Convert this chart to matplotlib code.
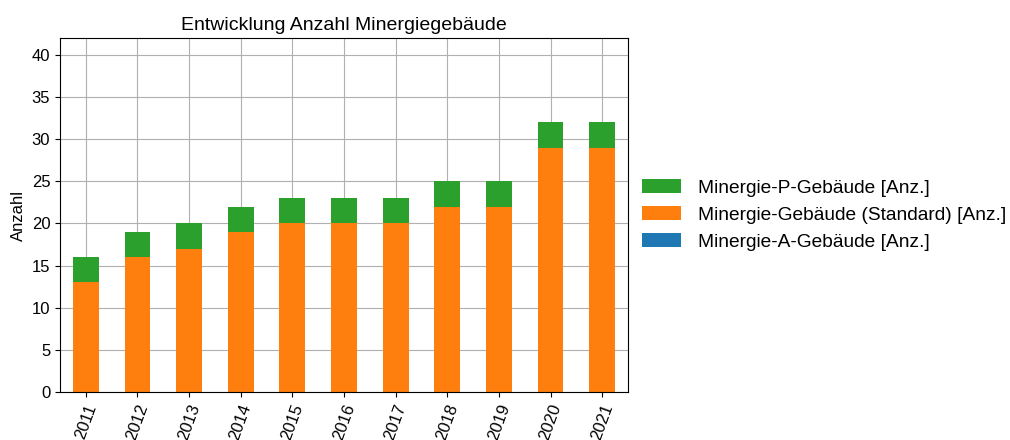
import numpy as np
import matplotlib.pyplot as plt

plt.rcParams['font.family'] = ['Liberation Sans', 'DejaVu Sans']

jahre = ['2011', '2012', '2013', '2014', '2015', '2016', '2017', '2018', '2019', '2020', '2021']
minergie_a = [0, 0, 0, 0, 0, 0, 0, 0, 0, 0, 0]
minergie_std = [13, 16, 17, 19, 20, 20, 20, 22, 22, 29, 29]
minergie_p = [3, 3, 3, 3, 3, 3, 3, 3, 3, 3, 3]

fig = plt.figure(figsize=(10.1, 4.4), dpi=100)
ax = fig.add_axes([60/1010, 48/440, 568/1010, 354/440])
x = np.arange(len(jahre))
ax.set_axisbelow(True)
ax.grid(color='#b0b0b0', linewidth=0.8)
b1 = ax.bar(x, minergie_a, width=0.5, color='#1f77b4', label='Minergie-A-Gebäude [Anz.]')
b2 = ax.bar(x, minergie_std, width=0.5, bottom=minergie_a, color='#ff7f0e', label='Minergie-Gebäude (Standard) [Anz.]')
unten = np.array(minergie_a) + np.array(minergie_std)
b3 = ax.bar(x, minergie_p, width=0.5, bottom=unten, color='#2ca02c', label='Minergie-P-Gebäude [Anz.]')
ax.set_xlim(-0.5, len(jahre) - 0.5)
ax.set_ylim(0, 42)
ax.set_xticks(x)
ax.set_xticklabels(jahre, rotation=70, fontsize=12)
ax.tick_params(axis='y', labelsize=12)
ax.set_ylabel('Anzahl', fontsize=12)
ax.set_title('Entwicklung Anzahl Minergiegebäude', fontsize=14)
# Legende ohne Rahmen, Reihenfolge wie gestapelt (oben zuerst)
ax.legend([b3, b2, b1], [b3.get_label(), b2.get_label(), b1.get_label()],
          loc='center left', bbox_to_anchor=(1.0 - 3/568, 0.5), frameon=False,
          fontsize=13.8, handletextpad=0.9)
plt.savefig('out.png', dpi=100)
